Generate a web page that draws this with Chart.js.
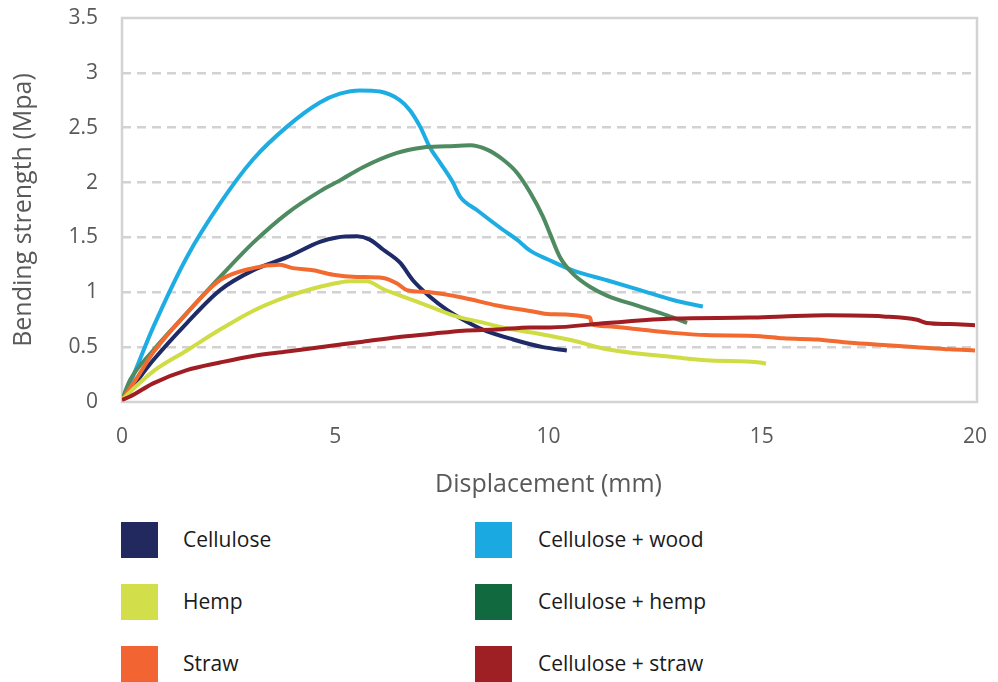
<!DOCTYPE html>
<html><head><meta charset="utf-8">
<script src="https://cdn.jsdelivr.net/npm/chart.js@4/dist/chart.umd.min.js"></script>
<style>
html,body{margin:0;padding:0;background:#fff;}
#wrap{position:relative;width:998px;height:682px;overflow:hidden;}
#cv{position:absolute;left:0;top:0;}
.sw{position:absolute;width:37px;height:36px;}
.lt{position:absolute;font-family:"Open Sans",sans-serif;font-size:21px;color:#1a1a1a;line-height:26px;white-space:nowrap;}
</style></head><body>
<div id="wrap"><canvas id="cv" width="998" height="500"></canvas><div id="legend"></div></div>
<script>
const seriesNames = ["Cellulose","Hemp","Straw","Cellulose + wood","Cellulose + hemp","Cellulose + straw"];
const lineColors = ["#1f2a68","#cfdc44","#f26a30","#1eade3","#4e8b60","#a01d23"];
const legendColors = ["#21295f","#d3df4a","#f26533","#1aa9e0","#116a3f","#9e1f24"];
const xTicks = [0,5,10,15,20];
const yTicks = [0,0.5,1,1.5,2,2.5,3,3.5];

const celluloseX = [0,0.19,0.73,1.52,2.3,3.07,3.87,4.64,5.04,5.51,5.81,6.12,6.52,6.82,7.22,7.62,8.0,8.46,9.17,9.87,10.43];
const celluloseY = [0.02,0.11,0.38,0.72,1.02,1.2,1.32,1.46,1.5,1.51,1.48,1.39,1.27,1.11,0.96,0.84,0.75,0.66,0.57,0.5,0.47];

const hempX = [0,0.35,0.73,1.52,2.3,3.07,3.87,4.64,5.11,5.35,5.74,6.12,6.59,7.22,7.76,8.39,9.17,9.8,10.57,11.37,12.15,12.92,13.7,14.96,15.1];
const hempY = [0.02,0.15,0.28,0.47,0.66,0.83,0.96,1.05,1.09,1.1,1.1,1.03,0.96,0.87,0.79,0.73,0.66,0.62,0.56,0.48,0.44,0.41,0.38,0.36,0.35];

const strawX = [0,0.35,0.73,1.52,2.3,3.07,3.7,4.01,4.48,4.95,5.51,6.12,6.45,6.68,7.22,8.0,8.79,9.57,10.04,10.97,11.02,11.37,12.15,12.92,13.7,14.96,15.5,16.3,17.07,17.85,18.64,19.41,20];
const strawY = [0.02,0.22,0.45,0.81,1.11,1.22,1.25,1.22,1.2,1.16,1.14,1.13,1.08,1.02,1.0,0.95,0.88,0.83,0.8,0.77,0.71,0.69,0.66,0.63,0.61,0.6,0.58,0.57,0.54,0.52,0.5,0.48,0.47];

const woodX = [0,0.12,0.73,1.52,2.3,3.07,3.87,4.64,5.11,5.58,6.05,6.52,6.75,6.99,7.22,7.46,7.76,7.93,8.32,8.93,9.26,9.57,10.04,10.57,11.37,12.15,12.92,13.62];
const woodY = [0.02,0.11,0.68,1.32,1.81,2.21,2.51,2.73,2.81,2.84,2.83,2.75,2.66,2.51,2.32,2.18,2.0,1.87,1.75,1.57,1.48,1.38,1.29,1.2,1.11,1.02,0.93,0.87];

const cHempX = [0,0.19,0.73,1.52,2.3,3.07,3.87,4.64,5.11,5.65,6.45,7.06,7.62,8.16,8.56,8.93,9.26,9.57,9.87,10.04,10.27,10.57,10.97,11.37,12.15,12.78,13.25];
const cHempY = [0.02,0.2,0.47,0.81,1.14,1.45,1.72,1.92,2.02,2.14,2.27,2.32,2.33,2.34,2.3,2.21,2.09,1.91,1.69,1.53,1.32,1.17,1.05,0.97,0.87,0.79,0.72];

const cStrawX = [0,0.19,0.73,1.52,2.3,3.07,3.87,4.64,5.65,6.45,7.22,8.0,8.79,9.57,10.04,11.37,12.92,14.72,15.5,16.53,17.85,18.64,18.87,19.41,20];
const cStrawY = [0.02,0.05,0.17,0.29,0.36,0.42,0.46,0.5,0.55,0.59,0.62,0.65,0.66,0.68,0.68,0.72,0.76,0.77,0.78,0.79,0.78,0.75,0.72,0.71,0.7];

const xs = [celluloseX,hempX,strawX,woodX,cHempX,cStrawX];
const ys = [celluloseY,hempY,strawY,woodY,cHempY,cStrawY];
const order = [5,1,2,0,4,3];

const datasets = order.map(i => ({
  label: seriesNames[i],
  data: xs[i].map((x,k)=>({x:x,y:ys[i][k]})),
  borderColor: lineColors[i],
  backgroundColor: lineColors[i],
  borderWidth: 4,
  pointRadius: 0,
  fill: false,
  cubicInterpolationMode: 'monotone'
}));

const frame = {
  id:'frame',
  beforeDatasetsDraw(chart){
    const a = chart.chartArea, c = chart.ctx;
    c.save();
    c.strokeStyle = '#d3d3d3';
    c.lineWidth = 2.5;
    c.strokeRect(a.left, a.top, a.right - a.left + 2, a.bottom - a.top);
    c.restore();
  }
};

new Chart(document.getElementById('cv'), {
  type:'line',
  data:{datasets},
  plugins:[frame],
  options:{
    responsive:false,
    animation:false,
    layout:{padding:{top:18,right:23,left:0,bottom:0}},
    plugins:{legend:{display:false},tooltip:{enabled:false}},
    scales:{
      x:{
        type:'linear', min:0, max:20,
        afterFit(s){ s.height = 98; s.paddingLeft = 0; s.paddingRight = 0; },
        afterBuildTicks(s){ s.ticks = xTicks.map(v=>({value:v})); },
        grid:{display:false, drawTicks:false},
        border:{display:false},
        ticks:{color:'#595959', font:{family:'Open Sans', size:21}, padding:22, maxRotation:0, callback:v=>String(v)},
        title:{display:true, text:'Displacement (mm)', color:'#595959', font:{family:'Open Sans', size:25}, padding:{top:8,bottom:0}}
      },
      y:{
        type:'linear', min:0, max:3.5,
        afterFit(s){ s.width = 122; s.paddingTop = 0; s.paddingBottom = 0; },
        afterBuildTicks(s){ s.ticks = yTicks.map(v=>({value:v})); },
        grid:{drawTicks:false, lineWidth:2.5,
          color:(ctx)=> (ctx.tick && (ctx.tick.value===0 || ctx.tick.value===3.5)) ? 'rgba(0,0,0,0)' : '#d2d2d2'},
        border:{display:false, dash:[9,6]},
        ticks:{color:'#595959', font:{family:'Open Sans', size:21}, padding:24, callback:v=>String(v)},
        title:{display:true, text:'Bending strength (Mpa)', color:'#595959', font:{family:'Open Sans', size:25}, padding:{top:9,bottom:0}}
      }
    }
  }
});

const lg = document.getElementById('legend');
const colX = [121,475], txX = [183,538], rowT = [522,584,646];
seriesNames.forEach((n,i)=>{
  const col = i<3?0:1, row = i%3;
  const sw = document.createElement('div');
  sw.className='sw'; sw.style.left=colX[col]+'px'; sw.style.top=rowT[row]+'px'; sw.style.background=legendColors[i];
  lg.appendChild(sw);
  const t = document.createElement('div');
  t.className='lt'; t.textContent=n; t.style.left=txX[col]+'px'; t.style.top=(rowT[row]+18-14)+'px';
  lg.appendChild(t);
});
</script>
</body></html>
